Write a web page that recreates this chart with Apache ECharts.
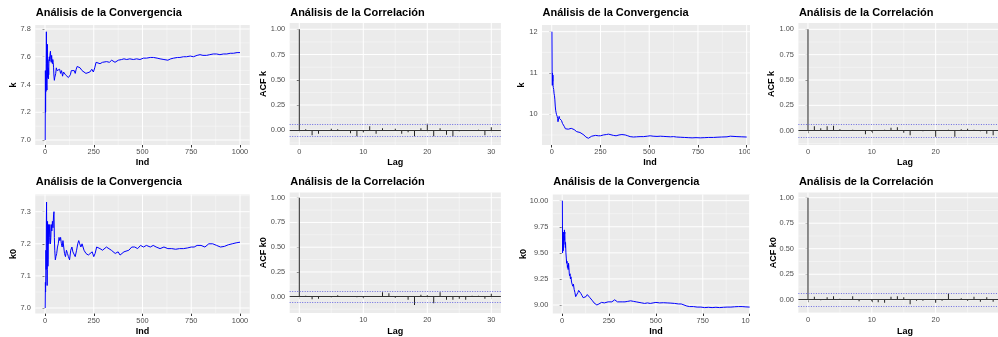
<!DOCTYPE html>
<html>
<head>
<meta charset="utf-8">
<script src="https://cdn.jsdelivr.net/npm/echarts@6/dist/echarts.min.js"></script>
<style>
  html, body { margin: 0; padding: 0; background: #ffffff; }
  #chart { width: 998px; height: 337px; }
</style>
</head>
<body>
<div id="chart"></div>
<script>
// ---- Running means of k and k0 for two chains (iteration, value) ----
const kChain1Iter = [1,2,3,4,5,6,7,8,9,10,11,12,13,14,15,16,17,18,19,20,22,24,26,28,30,32,34,36,38,40,42,44,46,48,50,52,55,58,62,66,70,75,80,85,90,95,100,105,110,115,120,125,130,135,140,145,150,155,160,165,170,175,180,185,190,200,210,220,230,240,248,255,262,270,282,295,305,316,330,342,350,359,368,376,385,393,405,419,435,453,470,487,505,521,540,556,575,590,610,630,645,660,680,692,710,726,745,761,780,795,810,829,845,863,880,897,915,932,950,966,985,1000];
const kChain1Mean = [7.00,7.50,7.20,7.45,7.35,7.55,7.78,7.60,7.40,7.36,7.55,7.69,7.50,7.45,7.58,7.48,7.44,7.52,7.47,7.55,7.60,7.57,7.62,7.64,7.58,7.56,7.61,7.57,7.55,7.58,7.56,7.52,7.46,7.43,7.45,7.44,7.48,7.52,7.50,7.51,7.49,7.51,7.48,7.50,7.46,7.49,7.50,7.47,7.46,7.48,7.45,7.44,7.47,7.50,7.51,7.49,7.50,7.48,7.51,7.53,7.54,7.53,7.52,7.51,7.50,7.49,7.48,7.48,7.49,7.51,7.49,7.52,7.56,7.555,7.55,7.56,7.55,7.565,7.56,7.575,7.57,7.56,7.57,7.575,7.57,7.58,7.585,7.58,7.585,7.58,7.585,7.58,7.59,7.59,7.595,7.595,7.59,7.585,7.58,7.575,7.585,7.59,7.595,7.595,7.60,7.60,7.605,7.60,7.61,7.615,7.61,7.61,7.615,7.62,7.62,7.615,7.62,7.62,7.625,7.625,7.63,7.63];

const kChain2Iter = [1,2,3,4,5,6,7,8,10,12,14,16,18,20,22,24,26,28,30,32,34,36,38,40,43,46,50,55,60,65,70,75,80,85,90,95,100,105,110,115,120,128,135,145,155,165,175,182,188,195,205,214,225,239,250,265,280,291,300,316,330,345,360,377,390,402,419,435,453,470,490,505,520,540,557,575,591,610,625,640,659,680,700,720,740,762,785,805,830,848,870,899,916,935,950,975,1000];
const kChain2Mean = [12.0,11.0,10.7,11.0,10.8,10.95,10.7,10.65,10.6,10.5,10.45,10.35,10.2,10.1,10.05,10.0,10.0,9.95,9.9,9.82,9.78,9.85,9.95,9.9,9.86,9.92,9.85,9.78,9.75,9.7,9.65,9.64,9.65,9.64,9.67,9.68,9.66,9.64,9.66,9.63,9.60,9.58,9.57,9.56,9.52,9.50,9.45,9.43,9.42,9.44,9.47,9.48,9.49,9.48,9.48,9.50,9.51,9.52,9.51,9.49,9.48,9.50,9.51,9.50,9.48,9.46,9.45,9.455,9.46,9.46,9.47,9.48,9.47,9.465,9.47,9.465,9.46,9.455,9.46,9.45,9.445,9.44,9.435,9.43,9.435,9.43,9.435,9.44,9.44,9.445,9.45,9.455,9.47,9.465,9.46,9.455,9.45];

const k0Chain1Iter = [1,2,3,4,5,6,7,8,9,10,11,12,13,14,15,16,18,20,22,24,26,28,30,32,35,38,41,44,46,48,50,53,56,60,64,68,72,76,80,84,88,92,96,100,105,110,115,120,126,132,138,143,148,155,162,168,173,178,184,190,200,210,222,232,242,250,257,265,275,282,295,305,315,325,340,350,360,375,385,395,405,415,430,445,460,475,490,505,520,540,555,570,590,610,630,650,670,690,710,730,750,765,780,800,820,840,860,880,900,920,940,960,980,1000];
const k0Chain1Mean = [7.00,7.08,7.05,7.10,7.18,7.12,7.27,7.33,7.20,7.10,7.07,7.12,7.27,7.20,7.13,7.15,7.26,7.20,7.22,7.26,7.24,7.20,7.22,7.26,7.24,7.27,7.25,7.29,7.30,7.22,7.18,7.15,7.16,7.17,7.19,7.20,7.22,7.21,7.22,7.20,7.19,7.21,7.19,7.17,7.16,7.18,7.17,7.16,7.15,7.18,7.19,7.175,7.17,7.16,7.18,7.20,7.21,7.20,7.19,7.20,7.18,7.17,7.165,7.17,7.175,7.16,7.17,7.19,7.19,7.185,7.18,7.185,7.19,7.185,7.18,7.175,7.17,7.175,7.165,7.17,7.175,7.17,7.18,7.19,7.19,7.185,7.195,7.19,7.195,7.19,7.195,7.19,7.185,7.19,7.185,7.185,7.183,7.185,7.185,7.187,7.19,7.19,7.195,7.195,7.19,7.20,7.20,7.195,7.19,7.192,7.197,7.20,7.203,7.205];

const k0Chain2Iter = [1,2,3,4,5,6,7,8,9,10,11,12,13,14,15,16,17,18,20,22,24,26,28,30,32,34,36,38,40,42,44,47,50,53,57,60,64,68,72,76,80,84,88,92,96,100,106,112,120,127,134,140,148,155,162,170,178,185,190,196,202,210,218,225,235,245,255,265,274,280,287,295,305,320,335,350,365,380,395,410,425,440,455,470,485,500,520,540,560,580,600,620,635,650,665,680,700,720,740,760,780,800,820,840,860,880,900,920,940,960,980,1000];
const k0Chain2Mean = [10.00,9.50,9.62,9.55,9.65,9.52,9.60,9.70,9.58,9.66,9.62,9.72,9.68,9.70,9.62,9.58,9.55,9.60,9.50,9.45,9.40,9.42,9.36,9.38,9.34,9.40,9.36,9.30,9.28,9.30,9.25,9.27,9.22,9.20,9.18,9.20,9.15,9.12,9.08,9.07,9.09,9.12,9.14,9.14,9.13,9.11,9.09,9.07,9.06,9.08,9.10,9.09,9.07,9.06,9.04,9.02,9.01,9.00,8.99,9.01,9.02,9.025,9.03,9.02,9.035,9.03,9.025,9.03,9.04,9.05,9.04,9.03,9.035,9.03,9.03,9.035,9.04,9.035,9.03,9.025,9.02,9.015,9.02,9.015,9.02,9.025,9.02,9.022,9.02,9.018,9.015,9.01,9.01,9.00,8.99,8.985,8.985,8.98,8.98,8.975,8.978,8.975,8.978,8.975,8.978,8.98,8.98,8.983,8.985,8.985,8.982,8.98];

// ---- Autocorrelation by lag ----
const acfLags = [0,1,2,3,4,5,6,7,8,9,10,11,12,13,14,15,16,17,18,19,20,21,22,23,24,25,26,27,28,29,30];
const acfKChain1 = [1.0,0.01,-0.05,-0.035,0.003,0.015,0.01,-0.003,-0.03,-0.06,-0.02,0.04,-0.035,0.02,0.003,0.015,-0.035,-0.02,-0.06,0.02,0.065,-0.06,0.02,-0.045,-0.06,-0.01,0.003,-0.003,0.005,-0.05,0.03];
const acfKChain2 = [1.0,0.045,0.025,0.045,0.05,0.015,0.003,0.01,0.005,-0.035,-0.01,-0.003,0.01,0.03,0.035,-0.02,-0.045,0.002,-0.005,0.003,-0.06,-0.003,0.01,-0.06,0.015,0.02,0.01,-0.005,-0.03,-0.045,-0.02];
const acfK0Chain1 = [1.0,0.01,-0.025,-0.02,0.003,-0.005,0.015,0.003,-0.003,-0.005,-0.01,0.002,0.003,0.045,0.035,-0.01,0.002,-0.03,-0.085,0.02,0.015,-0.065,0.045,-0.03,-0.03,-0.02,-0.03,0.01,0.01,-0.02,0.03];
const acfK0Chain2 = [1.0,0.03,-0.005,0.025,0.035,0.01,0.005,0.035,-0.015,0.002,-0.015,-0.025,-0.03,0.03,0.035,0.025,-0.045,-0.01,-0.01,0.002,-0.03,-0.01,0.06,0.002,0.015,-0.01,0.03,-0.02,0.025,-0.02,0.01];
const acfBound = 0.062;

// ---- Tick labels ----
const iterTicks = [0, 250, 500, 750, 1000];
const lagTicks = [0, 10, 20, 30];
const acfTicks = [0, 0.25, 0.5, 0.75, 1.0];
const kTicksChain1 = [7.0, 7.2, 7.4, 7.6, 7.8];
const kTicksChain2 = [10, 11, 12];
const k0TicksChain1 = [7.0, 7.1, 7.2, 7.3];
const k0TicksChain2 = [9.0, 9.25, 9.5, 9.75, 10.0];

const titleConv = 'Análisis de la Convergencia';
const titleAcf = 'Análisis de la Correlación';

// ---- Panel layout ----
const FONT = 'Liberation Sans, Arial, Helvetica, sans-serif';
const panels = [
  { kind: 'conv', x: kChain1Iter, y: kChain1Mean, yName: 'k', xName: 'Ind',
    left: 35.25, width: 214.5, top: 25, bottom: 145, xMin: -50, xMax: 1050, yMin: 6.964, yMax: 7.8288,
    xTicks: iterTicks, xDec: 0, yTicks: kTicksChain1, yDec: 1, titleY: 7.5, yTitleX: 14, xTitleX: 142.5, xTitleY: 163 },
  { kind: 'acf', x: acfLags, y: acfKChain1, yName: 'ACF k', xName: 'Lag',
    left: 289.7, width: 211.2, top: 23, bottom: 145, xMin: -1.5, xMax: 31.5, yMin: -0.146, yMax: 1.062,
    xTicks: lagTicks, xDec: 0, yTicks: acfTicks, yDec: 2, titleY: 7.5, yTitleX: 264, xTitleX: 395.3, xTitleY: 163 },
  { kind: 'conv', x: kChain2Iter, y: kChain2Mean, yName: 'k', xName: 'Ind',
    left: 542, width: 208, top: 25, bottom: 145, xMin: -50, xMax: 1017, yMin: 9.257, yMax: 12.162,
    xTicks: iterTicks, xDec: 0, yTicks: kTicksChain2, yDec: 0, titleY: 7.5, yTitleX: 521.7, xTitleX: 650, xTitleY: 163 },
  { kind: 'acf', x: acfLags, y: acfKChain2, yName: 'ACF k', xName: 'Lag',
    left: 798.4, width: 199.6, top: 23, bottom: 145, xMin: -1.5, xMax: 29.76, yMin: -0.141, yMax: 1.062,
    xTicks: lagTicks, xDec: 0, yTicks: acfTicks, yDec: 2, titleY: 7.5, yTitleX: 771.7, xTitleX: 905, xTitleY: 163 },
  { kind: 'conv', x: k0Chain1Iter, y: k0Chain1Mean, yName: 'k0', xName: 'Ind',
    left: 35.25, width: 214.5, top: 194.5, bottom: 313.5, xMin: -50, xMax: 1050, yMin: 6.9829, yMax: 7.3536,
    xTicks: iterTicks, xDec: 0, yTicks: k0TicksChain1, yDec: 1, titleY: 176.5, yTitleX: 14, xTitleX: 142.5, xTitleY: 331.3 },
  { kind: 'acf', x: acfLags, y: acfK0Chain1, yName: 'ACF k0', xName: 'Lag',
    left: 289.7, width: 211.2, top: 192.5, bottom: 313, xMin: -1.5, xMax: 31.5, yMin: -0.1646, yMax: 1.0525,
    xTicks: lagTicks, xDec: 0, yTicks: acfTicks, yDec: 2, titleY: 176.5, yTitleX: 264, xTitleX: 395.3, xTitleY: 331.3 },
  { kind: 'conv', x: k0Chain2Iter, y: k0Chain2Mean, yName: 'k0', xName: 'Ind',
    left: 552.8, width: 197.2, top: 194.5, bottom: 313.5, xMin: -50, xMax: 1002, yMin: 8.9185, yMax: 10.0594,
    xTicks: iterTicks, xDec: 0, yTicks: k0TicksChain2, yDec: 2, titleY: 176.5, yTitleX: 523.3, xTitleX: 656, xTitleY: 331.3 },
  { kind: 'acf', x: acfLags, y: acfK0Chain2, yName: 'ACF k0', xName: 'Lag',
    left: 798.4, width: 199.6, top: 192.5, bottom: 313, xMin: -1.5, xMax: 29.76, yMin: -0.130, yMax: 1.051,
    xTicks: lagTicks, xDec: 0, yTicks: acfTicks, yDec: 2, titleY: 176.5, yTitleX: 773.3, xTitleX: 905, xTitleY: 331.3 }
];

// minor grid lines sit halfway between major ticks (one extra on each side)
function minorOf(ticks) {
  const step = ticks[1] - ticks[0];
  const out = [ticks[0] - step / 2];
  ticks.forEach(t => out.push(t + step / 2));
  return out;
}

// white panel grid: [value, direction (0 = vertical, 1 = horizontal), major flag]
function gridLineItems(p) {
  const items = [];
  const inX = v => v >= p.xMin && v <= p.xMax;
  const inY = v => v >= p.yMin && v <= p.yMax;
  minorOf(p.xTicks).filter(inX).forEach(v => items.push([v, 0, 0]));
  minorOf(p.yTicks).filter(inY).forEach(v => items.push([v, 1, 0]));
  p.xTicks.filter(inX).forEach(v => items.push([v, 0, 1]));
  p.yTicks.filter(inY).forEach(v => items.push([v, 1, 1]));
  return items;
}

const grids = [], xAxes = [], yAxes = [], series = [], titles = [], graphics = [];
const labelStyle = { fontSize: 7.4, color: '#4D4D4D', fontFamily: FONT };

panels.forEach((p, i) => {
  grids.push({ left: p.left, top: p.top, width: p.width, height: p.bottom - p.top,
    show: true, backgroundColor: '#EBEBEB', borderWidth: 0, containLabel: false });

  xAxes.push({ type: 'value', gridIndex: i, min: p.xMin, max: p.xMax, position: 'bottom',
    axisLine: { show: false }, splitLine: { show: false },
    axisTick: { show: true, length: 2.5, customValues: p.xTicks, lineStyle: { color: '#333333', width: 1 } },
    axisLabel: { customValues: p.xTicks, margin: 3.5, formatter: v => v.toFixed(p.xDec), ...labelStyle } });
  yAxes.push({ type: 'value', gridIndex: i, min: p.yMin, max: p.yMax, position: 'left',
    axisLine: { show: false }, splitLine: { show: false },
    axisTick: { show: true, length: 2.5, customValues: p.yTicks, lineStyle: { color: '#333333', width: 1 } },
    axisLabel: { customValues: p.yTicks, margin: 4.5, formatter: v => v.toFixed(p.yDec), ...labelStyle } });

  // panel grid lines, placed through the panel's own scales
  series.push({ type: 'custom', xAxisIndex: i, yAxisIndex: i, silent: true, z: 1,
    data: gridLineItems(p),
    renderItem: (params, api) => {
      const v = api.value(0), dir = api.value(1), major = api.value(2);
      const cs = params.coordSys;
      let shape;
      if (dir === 0) {
        const px = api.coord([v, p.yMin])[0];
        shape = { x1: px, y1: cs.y, x2: px, y2: cs.y + cs.height };
      } else {
        const py = api.coord([p.xMin, v])[1];
        shape = { x1: cs.x, y1: py, x2: cs.x + cs.width, y2: py };
      }
      return { type: 'line', shape, silent: true,
        style: { stroke: major ? '#FFFFFF' : '#F8F8F8', lineWidth: major ? 1 : 0.6 } };
    } });

  const data = p.x.map((xv, j) => [xv, p.y[j]]);
  if (p.kind === 'conv') {
    series.push({ type: 'line', xAxisIndex: i, yAxisIndex: i, data,
      showSymbol: false, symbol: 'none', clip: true, z: 3,
      lineStyle: { color: '#0000FF', width: 1 } });
  } else {
    series.push({ type: 'bar', xAxisIndex: i, yAxisIndex: i, data,
      barWidth: 1, itemStyle: { color: '#222222' }, z: 3,
      markLine: { silent: true, symbol: 'none', animation: false, label: { show: false },
        data: [
          { yAxis: 0, lineStyle: { color: '#333333', type: 'solid', width: 1 } },
          { yAxis: acfBound, lineStyle: { color: '#6A6AE0', type: [1, 1.5], width: 1 } },
          { yAxis: -acfBound, lineStyle: { color: '#6A6AE0', type: [1, 1.5], width: 1 } }
        ] } });
  }

  titles.push({ text: p.kind === 'conv' ? titleConv : titleAcf, left: p.left + 0.5, top: p.titleY, padding: 0,
    textStyle: { fontSize: 11, fontWeight: 'bold', color: '#000000', fontFamily: FONT } });

  graphics.push({ type: 'text', x: p.xTitleX, y: p.xTitleY, z: 50,
    style: { text: p.xName, fill: '#000000', font: 'bold 9px ' + FONT, textAlign: 'center', textVerticalAlign: 'middle' } });
  graphics.push({ type: 'text', x: p.yTitleX, y: (p.top + p.bottom) / 2, rotation: Math.PI / 2, z: 50,
    style: { text: p.yName, fill: '#000000', font: 'bold 9px ' + FONT, textAlign: 'center', textVerticalAlign: 'middle' } });
});

// the third column ends at its edge, so its last tick label is cut there
graphics.push({ type: 'rect', z: 100, shape: { x: 750, y: 146, width: 22, height: 14 }, style: { fill: '#FFFFFF' } });
graphics.push({ type: 'rect', z: 100, shape: { x: 750, y: 315, width: 22, height: 14 }, style: { fill: '#FFFFFF' } });

const chart = echarts.init(document.getElementById('chart'), null, { renderer: 'canvas' });
chart.setOption({
  animation: false,
  backgroundColor: '#FFFFFF',
  title: titles,
  grid: grids,
  xAxis: xAxes,
  yAxis: yAxes,
  series: series,
  graphic: graphics
});
</script>
</body>
</html>
